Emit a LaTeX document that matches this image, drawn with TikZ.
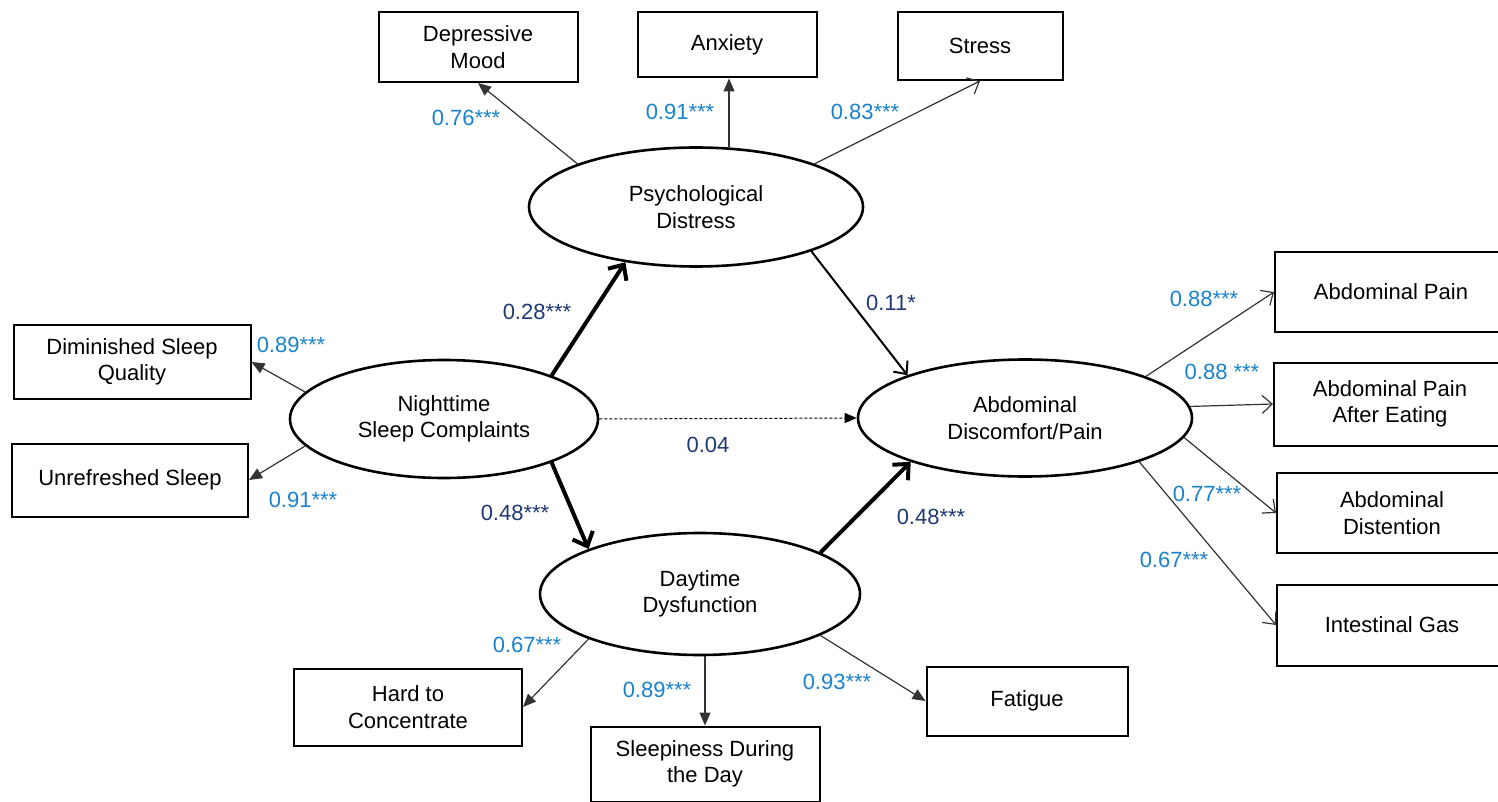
\documentclass[tikz,border=0pt]{standalone}
\usepackage{fontspec}
\setmainfont{Liberation Sans}
\usetikzlibrary{shapes.geometric,arrows.meta}
\definecolor{loadblue}{HTML}{1A82CC}
\definecolor{pathblue}{HTML}{1F3A74}
\begin{document}
\begin{tikzpicture}[x=0.5pt,y=-0.5pt,font=\fontsize{11}{13.3}\selectfont,
  lat/.style={ellipse,draw,line width=1.3pt,inner sep=0pt,align=center},
  ind/.style={rectangle,draw,line width=1pt,inner sep=0pt,align=center},
  load/.style={draw=black!80,line width=0.6pt,-{Triangle[length=6.5pt,width=5.5pt]}},
  loadopen/.style={draw=black!80,line width=0.6pt,-{Straight Barb[length=5pt,width=9pt]}},
  mid/.style={line width=1pt,-{Straight Barb[length=5pt,width=9pt]}},
  struct/.style={line width=2pt,-{Straight Barb[length=6pt,width=11pt]}},
  dotline/.style={line width=0.5pt,dash pattern=on 1.5pt off 1pt,-{Triangle[length=6pt,width=5pt]}},
  coef/.style={text=loadblue},
  pcoef/.style={text=pathblue}]

\useasboundingbox (0,0) rectangle (1498,802);

% latent factors
\node[lat,minimum width=167pt,minimum height=59.5pt](p) at (696,207) {Psychological\\Distress};
\node[lat,minimum width=154pt,minimum height=59pt](n) at (444,419) {Nighttime\\Sleep Complaints};
\node[lat,minimum width=167pt,minimum height=58.5pt](a) at (1025,418) {Abdominal\\Discomfort/Pain};
\node[lat,minimum width=160pt,minimum height=61pt](d) at (700,594) {Daytime\\Dysfunction};

% indicators
\node[ind,minimum width=99.5pt,minimum height=35pt](dm) at (478,47) {Depressive\\Mood};
\node[ind,minimum width=89.5pt,minimum height=32.5pt](ax) at (727,45) {Anxiety};
\node[ind,minimum width=82.5pt,minimum height=34pt](st) at (980,46) {Stress};

\node[ind,minimum width=118.5pt,minimum height=37pt](ds) at (132,362) {Diminished Sleep\\Quality};
\node[ind,minimum width=118pt,minimum height=36.5pt](us) at (130,480) {Unrefreshed Sleep};

\node[ind,minimum width=114pt,minimum height=38.5pt](hc) at (408,707) {Hard to\\Concentrate};
\node[ind,minimum width=114.5pt,minimum height=37.5pt](sd) at (705,764) {Sleepiness During\\the Day};
\node[ind,minimum width=100.5pt,minimum height=34.5pt](fa) at (1027,701) {Fatigue};

% right column runs off the page edge
\node[ind,minimum width=116pt,minimum height=40pt](ap) at (1391,292) {Abdominal Pain};
\node[ind,minimum width=116pt,minimum height=41.5pt](pe) at (1390,404) {Abdominal Pain\\After Eating};
\node[ind,minimum width=115pt,minimum height=40pt](di) at (1392,513) {Abdominal\\Distention};
\node[ind,minimum width=115pt,minimum height=40.5pt](ig) at (1392,625) {Intestinal Gas};

% structural paths
\draw[struct] (n.22) -- (p.218);
\draw[mid] (p.339) -- (a.160);
\draw[dotline] (n.east) -- (a.west);
\draw[struct] (n.338) -- (d.158);
\draw[struct] (d.19.5) -- (a.201);

\node[pcoef](cnp) at (537,312) {0.28***};
\node[pcoef](cpa) at (891,303) {0.11*};
\node[pcoef](cna) at (708,445) {0.04};
\node[pcoef](cnd) at (515,513) {0.48***};
\node[pcoef](cda) at (931,517) {0.48***};

% loadings
\draw[load] (p.160) -- (dm.south);
\draw[load] (p.61) -- (p.61 |- ax.south);
\draw[loadopen] (p.20) -- (st.south);

\draw[load] (n.169) -- (ds.east);
\draw[load] (n.191) -- (us.east);

\draw[load] (d.202) -- (hc.east);
\draw[load] (sd.north |- d.south) -- (sd.north);
\draw[load] (d.341) -- (fa.west);

\draw[loadopen] (a.19) -- (ap.west);
\draw[loadopen] (a.4) -- (pe.west);
\draw[loadopen] (a.353) -- (di.west);
\draw[loadopen] (a.339) -- (ig.west);

\node[coef](cdm) at (466,118) {0.76***};
\node[coef](cax) at (680,112) {0.91***};
\node[coef](cst) at (865,112) {0.83***};
\node[coef](cds) at (291,345) {0.89***};
\node[coef](cus) at (303,500) {0.91***};
\node[coef](chc) at (527,645) {0.67***};
\node[coef](csd) at (657,690) {0.89***};
\node[coef](cfa) at (837,682) {0.93***};
\node[coef](cap) at (1204,299) {0.88***};
\node[coef](cpe) at (1222,372) {0.88 ***};
\node[coef](cdi) at (1207,494) {0.77***};
\node[coef](cig) at (1174,560) {0.67***};

\end{tikzpicture}
\end{document}
